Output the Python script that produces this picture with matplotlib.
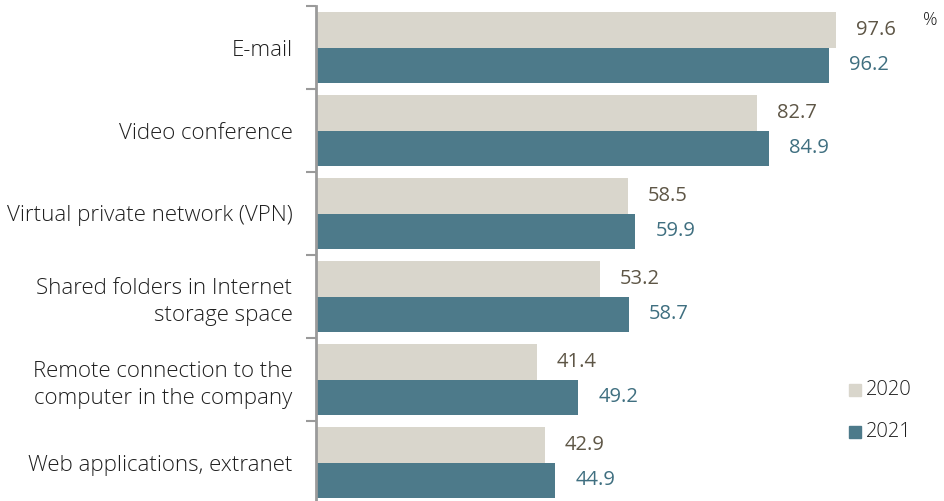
import numpy as np
import matplotlib.pyplot as plt
from matplotlib.patches import Rectangle

# data
categories = ['E-mail', 'Video conference', 'Virtual private network (VPN)',
              'Shared folders in Internet\nstorage space',
              'Remote connection to the\ncomputer in the company',
              'Web applications, extranet']
vals_2020 = [97.6, 82.7, 58.5, 53.2, 41.4, 42.9]
vals_2021 = [96.2, 84.9, 59.9, 58.7, 49.2, 44.9]
years = ['2020', '2021']

c2020 = '#d9d6cc'
c2021 = '#4d7a8a'
t2020 = '#5e5646'
t2021 = '#3f6f80'

plt.rcParams['font.family'] = ['Open Sans', 'DejaVu Sans']

fig = plt.figure(figsize=(9.44, 5.01), dpi=100)
W, H = 944, 501
# axes spans x 316..944 px, y 6..504 px
ax = fig.add_axes([316 / W, (H - 504) / H, (W - 316) / W, 498 / H])

n = len(categories)
y = np.arange(n)
h = 0.43
ax.barh(y - h / 2, vals_2020, height=h, color=c2020)
ax.barh(y + h / 2, vals_2021, height=h, color=c2021)

for i in range(n):
    ax.text(vals_2020[i] + 3.8, y[i] - h / 2, f'{vals_2020[i]:.1f}', va='center',
            ha='left', fontsize=14.5, color=t2020)
    ax.text(vals_2021[i] + 3.8, y[i] + h / 2, f'{vals_2021[i]:.1f}', va='center',
            ha='left', fontsize=14.5, color=t2021)

ax.set_xlim(0, (W - 316) / 5.33)
ax.set_ylim(n - 0.5, -0.5)

# category labels, ticks sit on category boundaries
ax.set_yticks(y)
ax.set_yticklabels(categories, fontsize=16, fontweight='light', color='#1e1e1e',
                   ha='right', linespacing=1.4)
ax.tick_params(axis='y', which='major', length=0, pad=17)
ax.set_yticks(np.arange(n + 1) - 0.5, minor=True)
ax.tick_params(axis='y', which='minor', length=7, width=1.5, color='#9a9a9a')
ax.tick_params(axis='x', which='both', bottom=False, labelbottom=False)

for s in ['top', 'right', 'bottom']:
    ax.spines[s].set_visible(False)
ax.spines['left'].set_color('#9a9a9a')
ax.spines['left'].set_linewidth(2)

# percent sign and legend
fig.text(930 / W, 1 - 20 / H, '%', fontsize=13, fontweight='light', color='#1e1e1e',
         ha='center', va='center')
for lab, col, yy in [(years[0], c2020, 390), (years[1], c2021, 432)]:
    fig.patches.append(Rectangle((849 / W, 1 - (yy + 6) / H), 12 / W, 12 / H,
                                 transform=fig.transFigure, color=col))
    fig.text(866 / W, 1 - yy / H, lab, fontsize=14.5, fontweight='light',
             color='#1e1e1e', va='center')

fig.savefig('out.png', dpi=100)
